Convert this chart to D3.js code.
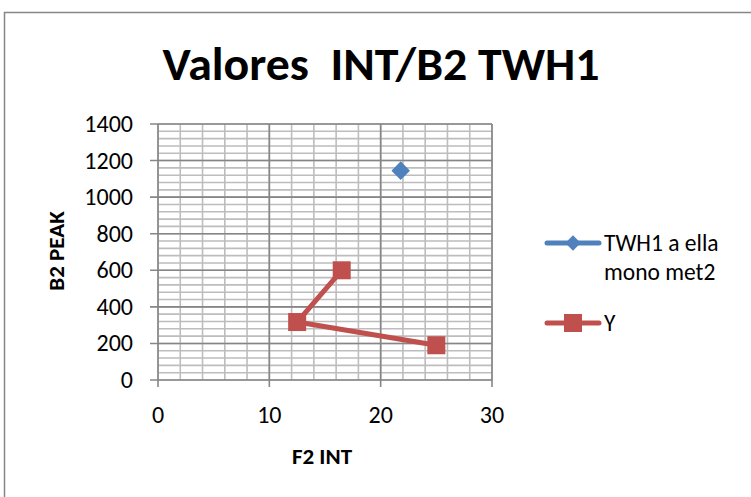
<!DOCTYPE html>
<html>
<head>
  <meta charset="utf-8">
  <script src="https://d3js.org/d3.v7.min.js"></script>
  <style>
    body { margin: 0; background: #fff; }
    text { font-family: Calibri, Carlito, Lato, sans-serif; fill: #000; }
  </style>
</head>
<body>
<script>
  // data
  var xTicks = [0, 10, 20, 30];
  var yTicks = [0, 200, 400, 600, 800, 1000, 1200, 1400];
  var twhX = [21.8];
  var twhY = [1145];
  var yX = [16.5, 12.5, 25];
  var yY = [600, 317, 190];
  var seriesNames = ["TWH1 a ella|mono met2", "Y"];

  var W = 751, H = 497;
  var svg = d3.select("body").append("svg")
      .attr("width", W).attr("height", H);

  // chart border (only left/top visible in frame)
  svg.append("rect")
    .attr("x", 4.5).attr("y", 12.5)
    .attr("width", 800).attr("height", 600)
    .attr("fill", "#fff").attr("stroke", "#868686").attr("stroke-width", 1.5);

  svg.append("text")
    .attr("x", 381).attr("y", 80)
    .attr("text-anchor", "middle")
    .attr("font-size", 46).attr("font-weight", "bold")
    .attr("textLength", 437).attr("lengthAdjust", "spacingAndGlyphs")
    .style("white-space", "pre")
    .text("Valores  INT/B2 TWH1");

  var x = d3.scaleLinear().domain([0, 30]).range([158, 492]);
  var y = d3.scaleLinear().domain([0, 1400]).range([380, 124]);

  // minor grid
  var g = svg.append("g");
  g.selectAll(".mx").data(d3.range(0, 30.01, 2)).enter().append("line")
    .attr("x1", d => x(d)).attr("x2", d => x(d))
    .attr("y1", y(0)).attr("y2", y(1400))
    .attr("stroke", "#bdbdbd").attr("stroke-width", 1.6);
  g.selectAll(".my").data(d3.range(0, 1400.1, 40)).enter().append("line")
    .attr("x1", x(0)).attr("x2", x(30))
    .attr("y1", d => y(d)).attr("y2", d => y(d))
    .attr("stroke", "#bdbdbd").attr("stroke-width", 1.6);

  // major grid + tick marks
  g.selectAll(".Mx").data(xTicks).enter().append("line")
    .attr("x1", d => x(d)).attr("x2", d => x(d))
    .attr("y1", y(0) + 7).attr("y2", y(1400))
    .attr("stroke", "#868686").attr("stroke-width", 1.6);
  g.selectAll(".My").data(yTicks).enter().append("line")
    .attr("x1", x(0) - 8).attr("x2", x(30))
    .attr("y1", d => y(d)).attr("y2", d => y(d))
    .attr("stroke", "#868686").attr("stroke-width", 1.6);

  // tick labels
  svg.selectAll(".yl").data(yTicks).enter().append("text")
    .attr("x", 133).attr("y", d => y(d) + 8)
    .attr("text-anchor", "end").attr("font-size", 24)
    .text(d => d);
  svg.selectAll(".xl").data(xTicks).enter().append("text")
    .attr("x", d => x(d)).attr("y", 423)
    .attr("text-anchor", "middle").attr("font-size", 24)
    .text(d => d);

  // axis titles
  svg.append("text")
    .attr("x", 322).attr("y", 464)
    .attr("text-anchor", "middle").attr("font-size", 23).attr("font-weight", "bold")
    .text("F2 INT");
  svg.append("text")
    .attr("transform", "translate(64,251) rotate(-90)")
    .attr("text-anchor", "middle").attr("font-size", 23).attr("font-weight", "bold")
    .text("B2 PEAK");

  var blue = "#4F81BD", red = "#C0504D";
  var diamond = d3.symbol().type(d3.symbolDiamond2).size(220);

  // series Y
  var ptsY = yX.map((v, i) => [v, yY[i]]);
  svg.append("path")
    .attr("d", d3.line().x(d => x(d[0])).y(d => y(d[1]))(ptsY))
    .attr("fill", "none").attr("stroke", red).attr("stroke-width", 5)
    .attr("stroke-linejoin", "round");
  svg.selectAll(".sq").data(ptsY).enter().append("rect")
    .attr("x", d => x(d[0]) - 9).attr("y", d => y(d[1]) - 9)
    .attr("width", 18).attr("height", 18).attr("fill", red);

  // series TWH1
  svg.selectAll(".dm").data(twhX.map((v, i) => [v, twhY[i]])).enter().append("path")
    .attr("d", diamond)
    .attr("transform", d => "translate(" + x(d[0]) + "," + y(d[1]) + ")")
    .attr("fill", blue);

  // legend
  var lg = svg.append("g");
  lg.append("line").attr("x1", 547).attr("x2", 599).attr("y1", 243).attr("y2", 243)
    .attr("stroke", blue).attr("stroke-width", 5).attr("stroke-linecap", "round");
  lg.append("path").attr("d", d3.symbol().type(d3.symbolDiamond2).size(150))
    .attr("transform", "translate(573,243)").attr("fill", blue);
  var t1 = lg.append("text").attr("x", 604).attr("y", 251).attr("font-size", 23.5);
  seriesNames[0].split("|").forEach(function (s, i) {
    t1.append("tspan").attr("x", 604).attr("dy", i ? 29 : 0).text(s);
  });
  lg.append("line").attr("x1", 547).attr("x2", 599).attr("y1", 323).attr("y2", 323)
    .attr("stroke", red).attr("stroke-width", 5).attr("stroke-linecap", "round");
  lg.append("rect").attr("x", 564).attr("y", 314).attr("width", 18).attr("height", 18).attr("fill", red);
  lg.append("text").attr("x", 604).attr("y", 331).attr("font-size", 23.5).text(seriesNames[1]);
</script>
</body>
</html>
